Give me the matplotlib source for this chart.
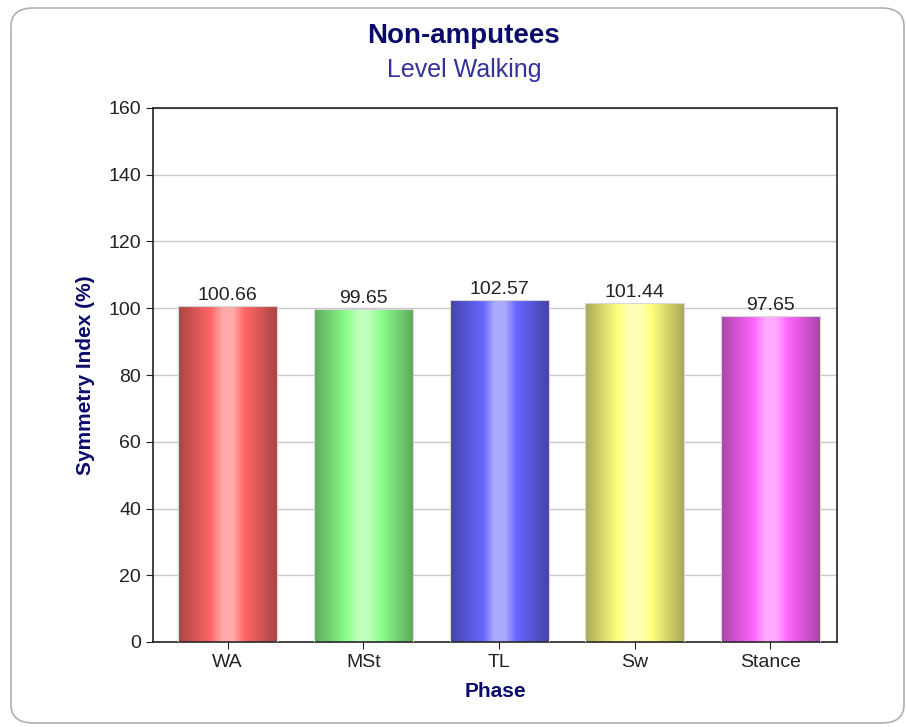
import numpy as np
import matplotlib
matplotlib.use("Agg")
import matplotlib.pyplot as plt
from matplotlib.patches import FancyBboxPatch

phases = ["WA", "MSt", "TL", "Sw", "Stance"]
symmetry = [100.66, 99.65, 102.57, 101.44, 97.65]
bar_colors = [(1.0, 0.40, 0.40), (0.55, 1.0, 0.55), (0.40, 0.40, 1.0),
              (1.0, 1.0, 0.50), (1.0, 0.40, 1.0)]

plt.rcParams["font.family"] = ["Liberation Sans", "DejaVu Sans"]

navy = "#0b0b6b"

fig = plt.figure(figsize=(9.06, 7.27), dpi=100)

# rounded panel outline
panel = FancyBboxPatch((11 / 906, 4 / 727), 893 / 906, 715 / 727,
                       boxstyle="round,pad=0,rounding_size=0.025",
                       transform=fig.transFigure, facecolor="white",
                       edgecolor="#b0b0b0", linewidth=1.2, zorder=0)
fig.patches.append(panel)

ax = fig.add_axes([153 / 906, 85 / 727, 684 / 906, 534 / 727])
ax.set_zorder(2)
ax.set_facecolor("white")


def shade(base, n=200):
    # cylinder-like horizontal shading: dark edges, light band in the middle
    base = np.array(base)
    dark = base * 0.66
    light = base + (1 - base) * 0.45
    stops = [0.0, 0.33, 0.45, 0.55, 0.67, 1.0]
    cols = [dark, base, light, light, base, dark]
    t = np.linspace(0, 1, n)
    img = np.zeros((8, n, 3))
    for c in range(3):
        img[:, :, c] = np.interp(t, stops, [col[c] for col in cols])[None, :]
    return img


x = np.arange(len(phases))
bars = ax.bar(x, symmetry, width=0.73, facecolor="none", edgecolor="#d8d8d8",
              linewidth=0.8, zorder=3)
for rect, col, val in zip(bars, bar_colors, symmetry):
    x0 = rect.get_x()
    w = rect.get_width()
    im = ax.imshow(shade(col), extent=[x0, x0 + w, 0, 160], aspect="auto",
                   interpolation="nearest", zorder=2)
    im.set_clip_path(rect)
    ax.text(x0 + w / 2, val + 0.6, f"{val:.2f}", ha="center", va="bottom",
            fontsize=14, color="#222222", zorder=3)

ax.set_xlim(-0.55, 4.49)
ax.set_ylim(0, 160)
ax.set_yticks(np.arange(0, 161, 20))
ax.set_xticks(x)
ax.set_xticklabels(phases)
ax.tick_params(axis="both", labelsize=14, colors="#222222", length=5, direction="out")
ax.yaxis.grid(True, color="#c8c8c8", linewidth=1)
ax.set_axisbelow(True)
for s in ax.spines.values():
    s.set_linewidth(1.2)
    s.set_color("#222222")

ax.set_ylabel("Symmetry Index (%)", fontsize=15, fontweight="bold", color=navy, labelpad=10)
ax.set_xlabel("Phase", fontsize=15, fontweight="bold", color=navy, labelpad=8)

fig.text(0.512, 1 - 36 / 727, "Non-amputees", ha="center", va="center",
         fontsize=20, fontweight="bold", color=navy)
fig.text(0.512, 1 - 70 / 727, "Level Walking", ha="center", va="center",
         fontsize=18, color="#333399")

fig.savefig("out.png", dpi=100)
